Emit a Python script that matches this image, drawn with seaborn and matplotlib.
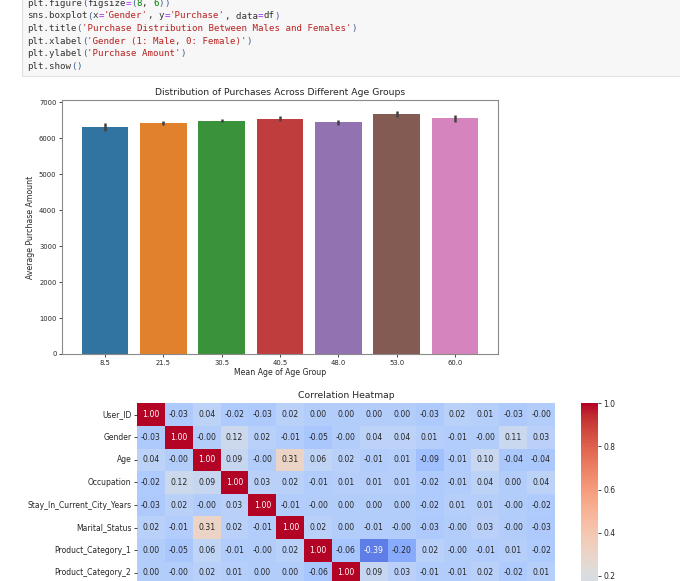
import re
import numpy as np
import matplotlib
matplotlib.use("Agg")
import matplotlib.pyplot as plt
import seaborn as sns
from matplotlib.patches import Rectangle
from matplotlib.ticker import MultipleLocator

# ---------------- data ----------------
code_lines = [
    "plt.figure(figsize=(8, 6))",
    "sns.boxplot(x='Gender', y='Purchase', data=df)",
    "plt.title('Purchase Distribution Between Males and Females')",
    "plt.xlabel('Gender (1: Male, 0: Female)')",
    "plt.ylabel('Purchase Amount')",
    "plt.show()",
]

age_groups = ["8.5", "21.5", "30.5", "40.5", "48.0", "53.0", "60.0"]
avg_purchase = [6313, 6424, 6488, 6543, 6443, 6682, 6554]
purchase_ci = [100, 64, 46, 64, 65, 79, 105]

heat_rows = ["User_ID", "Gender", "Age", "Occupation",
             "Stay_In_Current_City_Years", "Marital_Status",
             "Product_Category_1", "Product_Category_2"]
corr_values = [
    [1.00, -0.03, 0.04, -0.02, -0.03, 0.02, 0.00, 0.00, 0.00, 0.00, -0.03, 0.02, 0.01, -0.03, -0.0],
    [-0.03, 1.00, -0.0, 0.12, 0.02, -0.01, -0.05, -0.0, 0.04, 0.04, 0.01, -0.01, -0.0, 0.11, 0.03],
    [0.04, -0.0, 1.00, 0.09, -0.0, 0.31, 0.06, 0.02, -0.01, 0.01, -0.09, -0.01, 0.10, -0.04, -0.04],
    [-0.02, 0.12, 0.09, 1.00, 0.03, 0.02, -0.01, 0.01, 0.01, 0.01, -0.02, -0.01, 0.04, 0.00, 0.04],
    [-0.03, 0.02, -0.0, 0.03, 1.00, -0.01, -0.0, 0.00, 0.00, 0.00, -0.02, 0.01, 0.01, -0.0, -0.02],
    [0.02, -0.01, 0.31, 0.02, -0.01, 1.00, 0.02, 0.00, -0.01, -0.0, -0.03, -0.0, 0.03, -0.0, -0.03],
    [0.00, -0.05, 0.06, -0.01, -0.0, 0.02, 1.00, -0.06, -0.39, -0.20, 0.02, -0.0, -0.01, 0.01, -0.02],
    [0.00, -0.0, 0.02, 0.01, 0.00, 0.00, -0.06, 1.00, 0.09, 0.03, -0.01, -0.01, 0.02, -0.02, 0.01],
]

# ---------------- layout helpers ----------------
W, H = 680, 581
fig = plt.figure(figsize=(W / 100, H / 100), dpi=100)
fig.patch.set_facecolor("white")


def px(x0, y0, x1, y1):
    return [x0 / W, 1 - y1 / H, (x1 - x0) / W, (y1 - y0) / H]


TXT = "#262626"
SPINE = "#8a8a8a"

# ---------------- code cell ----------------
fig.patches.append(Rectangle((21.7 / W, 1 - 76 / H), 1.0, 0.5,
                             transform=fig.transFigure, facecolor="#f7f7f7",
                             edgecolor="#e0e0e0", lw=0.8, zorder=0))
tok_re = re.compile(r"('[^']*')|(\d+)|(=)|([()])|([^'\d=()]+)")
tok_colors = ["#ba2121", "#008000", "#aa22ff", "#3b5f99", "#333333"]
cw = 5.5
for i, line in enumerate(code_lines):
    y = 3.4 + i * 12.6
    for m in tok_re.finditer(line):
        g = [k for k in range(5) if m.group(k + 1) is not None][0]
        x = 26.7 + m.start() * cw
        fig.text(x / W, 1 - y / H, m.group(0), color=tok_colors[g],
                 fontsize=6.6, family="DejaVu Sans Mono", va="center", ha="left")

# ---------------- bar chart ----------------
ax1 = fig.add_axes(px(62, 100, 498, 354))
sns.barplot(x=age_groups, y=avg_purchase, hue=age_groups, palette="tab10",
            legend=False, errorbar=None, saturation=0.75, ax=ax1)
ax1.errorbar(range(len(age_groups)), avg_purchase, yerr=purchase_ci,
             fmt="none", ecolor="#424242", elinewidth=1.8, capsize=0, zorder=5)
ax1.set_ylim(0, 7064)
ax1.yaxis.set_major_locator(MultipleLocator(1000))
ax1.set_title("Distribution of Purchases Across Different Age Groups",
              fontsize=6.7, color=TXT, pad=3.6)
ax1.set_xlabel("Mean Age of Age Group", fontsize=5.6, color=TXT, labelpad=2)
ax1.set_ylabel("Average Purchase Amount", fontsize=5.6, color=TXT, labelpad=3)
ax1.tick_params(labelsize=4.9, colors=TXT, length=2.5, width=0.6, pad=1.5)
for s in ax1.spines.values():
    s.set_color(SPINE)
    s.set_linewidth(0.8)

# ---------------- heatmap ----------------
row_h = 22.6
ax2 = fig.add_axes(px(137, 403.3, 555, 403.3 + len(heat_rows) * row_h))
cax = fig.add_axes(px(580.7, 403.3, 597.7, 742))
sns.heatmap(np.array(corr_values), annot=True, fmt=".2f", cmap="coolwarm",
            vmin=-0.57, vmax=1.0, ax=ax2, cbar_ax=cax,
            yticklabels=heat_rows, xticklabels=False,
            annot_kws={"fontsize": 5.6})
ax2.set_title("Correlation Heatmap", fontsize=6.7, color=TXT, pad=3.6)
ax2.tick_params(axis="y", labelsize=5.5, colors=TXT, length=2.5, width=0.6,
                pad=1.5, labelrotation=0)
cax.tick_params(labelsize=5.5, colors=TXT, length=2.5, width=0.6, pad=1.5)

fig.savefig("out.png", dpi=100)
